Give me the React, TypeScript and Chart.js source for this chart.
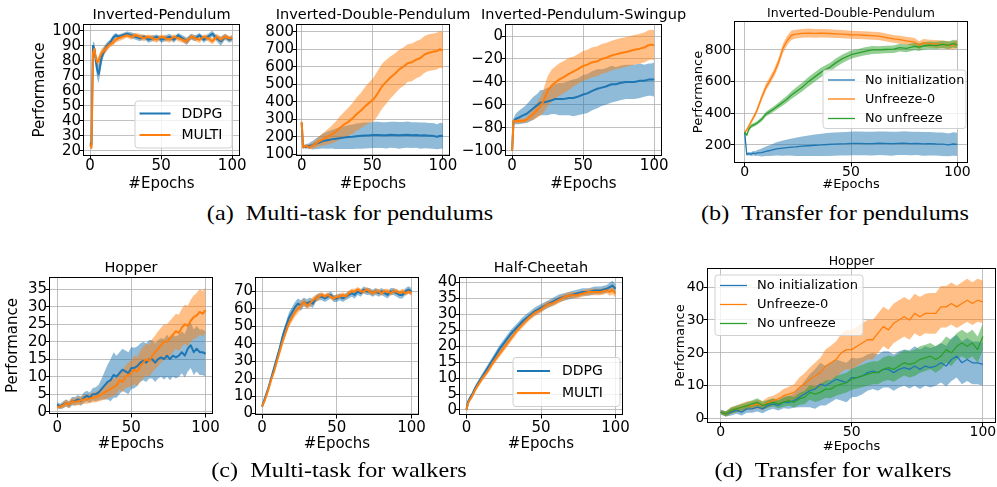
import React, { useEffect, useRef } from "react";
import { Chart, registerables } from "chart.js";

Chart.register(...registerables);
Chart.defaults.font.family = "'DejaVu Sans', sans-serif";
Chart.defaults.color = "#000";

const BLUE = "#1f77b4";
const ORANGE = "#ff7f0e";
const GREEN = "#2ca02c";
const GRID = "rgba(176,176,176,0.8)";

// ---------- tick values ----------
const epochTicks = [0, 50, 100];
const ipYTicks = [20, 30, 40, 50, 60, 70, 80, 90, 100];
const idpYTicks = [100, 200, 300, 400, 500, 600, 700, 800];
const swYTicks = [-100, -80, -60, -40, -20, 0];
const tIdpYTicks = [200, 400, 600, 800];
const hopperYTicks = [0, 5, 10, 15, 20, 25, 30, 35];
const walkerYTicks = [0, 10, 20, 30, 40, 50, 60, 70];
const cheetahYTicks = [0, 5, 10, 15, 20, 25, 30, 35, 40];
const tHopperYTicks = [0, 10, 20, 30, 40];

// ---------- (a) Inverted-Pendulum ----------
const ipEpochs = [0, 1, 2, 3, 4, 5, 6, 7, 8, 10, 12, 14, 16, 18, 20, 23, 26, 29, 32, 35, 38, 41, 44, 47, 50, 53, 56, 59, 62, 65, 68, 71, 74, 77, 80, 83, 86, 89, 92, 95, 98, 100];
const ipDdpgMean = [25, 24, 90, 88, 80, 74, 71, 76, 82, 87, 90, 92, 95, 97, 96, 97, 98, 97, 96, 95, 96, 94, 95, 96, 94, 95, 96, 94, 97, 95, 93, 96, 95, 97, 94, 96, 98, 95, 93, 96, 94, 95];
const ipDdpgSd = [1, 2, 3, 4, 5, 6, 6, 5, 4, 3, 2.5, 2, 2, 1.5, 1.5, 1.5, 1.5, 2, 2, 2, 1.5, 2, 2, 1.5, 2, 2, 2, 2, 1.5, 2, 2.5, 2, 2, 1.5, 2, 2, 2, 2, 3, 2, 2, 2];
const ipMultiMean = [24, 22, 85, 88, 82, 79, 80, 83, 85, 87, 89, 91, 92, 94, 95, 96, 97, 96, 97, 96, 95, 96, 95, 94, 96, 95, 94, 96, 95, 94, 93, 96, 95, 94, 96, 95, 93, 96, 94, 96, 95, 95];
const ipMultiSd = [1, 1.5, 3, 3, 3, 3, 3, 3, 3, 2.5, 2.5, 2, 2, 2, 2, 2, 1.5, 2, 1.5, 2, 2, 1.5, 2, 2, 1.5, 2, 2, 1.5, 2, 2, 2, 1.5, 2, 2, 1.5, 2, 2, 2, 2, 2, 1.5, 2];

// ---------- (a) Inverted-Double-Pendulum ----------
const idpEpochs = [0, 1, 2, 3, 4, 5, 6, 8, 10, 12, 15, 18, 21, 24, 27, 30, 33, 36, 39, 42, 45, 48, 51, 54, 57, 60, 63, 66, 69, 72, 75, 78, 81, 84, 87, 90, 93, 96, 98, 100];
const idpDdpgMean = [280, 140, 145, 142, 148, 145, 150, 152, 160, 165, 175, 180, 185, 188, 192, 195, 198, 200, 203, 205, 207, 208, 210, 210, 209, 208, 211, 210, 208, 210, 212, 209, 210, 207, 208, 206, 205, 200, 206, 204];
const idpDdpgSd = [5, 10, 10, 12, 14, 15, 18, 25, 30, 35, 42, 48, 52, 58, 62, 65, 68, 70, 72, 73, 74, 74, 75, 75, 74, 75, 74, 75, 76, 74, 75, 74, 73, 75, 74, 73, 74, 72, 74, 73];
const idpMultiMean = [285, 140, 142, 150, 145, 140, 142, 150, 160, 172, 185, 198, 212, 228, 250, 270, 285, 305, 330, 350, 375, 395, 415, 450, 490, 515, 540, 560, 585, 600, 620, 625, 640, 650, 670, 680, 685, 690, 700, 692];
const idpMultiSd = [5, 8, 8, 10, 10, 12, 14, 18, 22, 28, 35, 42, 50, 58, 65, 72, 80, 88, 95, 102, 110, 118, 125, 128, 128, 125, 120, 115, 112, 110, 108, 108, 106, 106, 105, 105, 105, 105, 105, 105];

// ---------- (a) Inverted-Pendulum-Swingup ----------
const swEpochs = [0, 1, 2, 3, 5, 8, 10, 12, 15, 18, 20, 22, 25, 28, 30, 33, 36, 40, 43, 46, 50, 53, 56, 60, 63, 66, 70, 73, 76, 80, 83, 86, 90, 93, 96, 98, 100];
const swDdpgMean = [-100, -74, -73, -72, -71, -69, -68, -66, -63, -60, -58, -58, -57, -56, -55, -55, -55, -54, -54, -53, -51, -50, -48, -46, -45, -44, -42, -42, -41, -40, -40, -40, -39, -39, -38, -38, -38];
const swDdpgSd = [1, 2, 4, 5, 6, 7, 8, 9, 10, 10, 11, 11, 12, 12, 13, 14, 14, 15, 16, 16, 17, 17, 17, 17, 16, 16, 16, 15, 15, 15, 15, 15, 15, 14, 14, 14, 15];
const swMultiMean = [-100, -74, -74, -74, -74, -74, -73, -71, -68, -64, -61, -57, -48, -43, -41, -38, -36, -33, -31, -29, -26, -25, -23, -22, -20, -19, -17, -16, -15, -14, -13, -12, -11, -10, -8, -7.5, -8];
const swMultiSd = [1, 2, 2, 2, 2, 2, 2, 3, 5, 7, 8, 10, 13, 14, 14, 14, 14, 14, 13, 13, 13, 13, 13, 13, 13, 13, 13, 13, 13, 13, 13, 13, 13, 13, 13, 13, 13];

// ---------- (b) Transfer, Inverted-Double-Pendulum ----------
const tIdpEpochs = [0, 1, 2, 3, 4, 5, 6, 8, 10, 12, 14, 16, 18, 20, 22, 24, 27, 30, 33, 36, 40, 43, 46, 50, 53, 56, 60, 63, 66, 70, 73, 76, 80, 82, 84, 87, 90, 93, 96, 98, 100];
const tIdpUnfreezeMean = [280, 295, 320, 345, 370, 395, 425, 500, 565, 610, 660, 725, 810, 860, 893, 900, 905, 907, 905, 906, 904, 902, 900, 896, 895, 893, 890, 888, 880, 870, 865, 858, 850, 830, 845, 840, 838, 835, 830, 828, 840];
const tIdpUnfreezeSd = [8, 10, 12, 14, 15, 16, 18, 20, 22, 24, 25, 28, 30, 30, 30, 28, 28, 28, 28, 27, 27, 26, 26, 25, 25, 25, 25, 25, 25, 25, 25, 25, 25, 25, 25, 25, 25, 25, 25, 25, 28];
const tIdpNoUnfreezeMean = [280, 262, 300, 318, 325, 332, 340, 362, 395, 412, 430, 450, 470, 490, 515, 535, 565, 600, 630, 660, 690, 720, 745, 770, 780, 790, 800, 800, 803, 805, 815, 810, 822, 818, 825, 830, 828, 835, 830, 840, 832];
const tIdpNoUnfreezeSd = [8, 10, 12, 12, 12, 12, 13, 14, 15, 16, 17, 18, 20, 22, 24, 26, 28, 30, 30, 30, 28, 28, 27, 26, 25, 25, 25, 24, 24, 24, 24, 24, 24, 24, 24, 24, 24, 24, 24, 24, 24];

// ---------- (c) Hopper ----------
const stepEpochs = [0, 2, 4, 6, 8, 10, 12, 14, 16, 18, 20, 22, 24, 26, 28, 30, 32, 34, 36, 38, 40, 42, 44, 46, 48, 50, 52, 54, 56, 58, 60, 62, 64, 66, 68, 70, 72, 74, 76, 78, 80, 82, 84, 86, 88, 90, 92, 94, 96, 98, 100];
const hopperDdpgMean = [2, 1.5, 2, 2.5, 2, 3, 3, 3.5, 3, 4, 4.5, 4, 5, 5, 5.5, 6.5, 7.5, 8.5, 9, 10.5, 10, 11, 12, 11.5, 11, 12.5, 12.5, 13, 14, 14.5, 14, 15, 15, 14, 15, 15.5, 15, 16, 15, 16, 15.5, 16, 17, 16, 18, 19, 17, 18, 17, 17, 16.5];
const hopperDdpgSd = [0.8, 0.8, 1, 1, 1, 1.2, 1.2, 1.3, 1.3, 1.5, 1.5, 1.5, 1.8, 2, 2.2, 3, 4, 5, 6, 6.5, 6, 6, 6, 6, 6, 6, 5.8, 5.6, 5.5, 5.5, 5.5, 5.5, 5.5, 5.5, 5.5, 5.5, 5.8, 6, 6, 6, 6, 6, 6, 6.2, 6.5, 6.5, 6.5, 6.5, 6.5, 6.5, 6.5];
const hopperMultiMean = [1.2, 1.5, 1.8, 2.5, 2, 3, 2.8, 3, 3.2, 3.5, 3.5, 3.8, 4, 4.2, 4.5, 5, 5.5, 6, 6.5, 7, 7.5, 9, 8.5, 10, 10.5, 11, 12, 11.5, 13, 14, 15, 14.5, 16, 17, 18, 19, 20, 20, 21, 22, 23, 22.5, 24, 25, 24.5, 26, 27, 27.5, 28.5, 28, 29];
const hopperMultiSd = [0.5, 0.6, 0.8, 1, 1, 1, 1, 1.2, 1.2, 1.2, 1.2, 1.3, 1.4, 1.5, 1.6, 1.8, 2, 2.2, 2.4, 2.5, 2.5, 2.8, 3, 3.2, 3.5, 3.8, 4, 4.2, 4.4, 4.5, 4.5, 4.6, 4.8, 4.8, 5, 5, 5, 5, 5, 5, 5, 5.2, 5.4, 5.6, 5.8, 6, 6.2, 6.4, 6.5, 6.5, 6.5];

// ---------- (c) Walker ----------
const walkerDdpgMean = [4, 9, 14, 20, 26, 32, 38, 45, 50, 55, 58, 61, 63, 62, 64, 63, 64, 63, 66, 67, 67, 66, 67, 68, 66, 66, 67, 66, 67, 68, 69, 68, 70, 69, 71, 70, 70, 69, 70, 69, 70, 69, 68, 70, 70, 69, 68, 68, 70, 71, 70];
const walkerDdpgSd = [1, 1, 1, 1, 1, 1.5, 1.5, 2, 2.5, 3, 3, 3, 3, 3, 2.5, 2.5, 2.5, 2.5, 2, 2, 2, 2, 2, 2, 2, 2, 2, 2, 2, 2, 2, 2, 2, 2, 2, 2, 2, 2, 2, 2, 2, 2, 2, 2, 2, 2, 2, 2, 2, 2, 2];
const walkerMultiMean = [4, 8, 13, 19, 24, 30, 36, 42, 47, 52, 55, 58, 60, 62, 64, 62, 63, 65, 66, 67, 68, 67, 68, 67, 66, 67, 67, 68, 67, 69, 70, 70, 71, 70, 70, 71, 70, 69, 70, 70, 69, 70, 70, 69, 70, 70, 69, 70, 69, 70, 69];
const walkerMultiSd = [1, 1, 1, 1, 1, 1.5, 1.5, 2, 2, 2.5, 2.5, 2.5, 2.5, 2, 2, 2, 2, 2, 2, 2, 1.5, 1.5, 1.5, 1.5, 1.5, 1.5, 1.5, 1.5, 1.5, 1.5, 1.5, 1.5, 1.5, 1.5, 1.5, 1.5, 1.5, 1.5, 1.5, 1.5, 1.5, 1.5, 1.5, 1.5, 1.5, 1.5, 1.5, 1.5, 1.5, 1.5, 1.5];

// ---------- (c) Half-Cheetah ----------
const cheetahEpochs = [0, 1, 2, 4, 6, 8, 10, 14, 18, 22, 26, 30, 34, 38, 42, 46, 50, 54, 58, 62, 66, 70, 74, 78, 82, 86, 90, 94, 96, 98, 100];
const cheetahDdpgMean = [0, 2.5, 3.5, 5, 7, 8.5, 10, 13, 16, 19, 21.5, 24, 26, 28, 29.5, 31, 32, 33, 34, 35, 35.5, 36, 36.5, 37, 37, 37.5, 37.5, 38, 38.5, 39, 38];
const cheetahDdpgSd = [0.3, 0.5, 0.6, 0.8, 0.8, 0.9, 1, 1, 1.1, 1.2, 1.2, 1.2, 1.2, 1.2, 1.2, 1.2, 1.2, 1.2, 1.2, 1.2, 1.2, 1.2, 1.2, 1.2, 1.2, 1.2, 1.2, 1.2, 1.4, 1.5, 1.4];
const cheetahMultiMean = [0, 2, 3, 4.5, 6.5, 8, 9.5, 12, 15, 17.5, 20, 22.5, 25, 27, 29, 30.5, 31.5, 33, 33.5, 34.5, 35.5, 36, 36, 36.5, 37, 37, 37, 37.5, 37, 37.5, 36.5];
const cheetahMultiSd = [0.3, 0.5, 0.6, 0.7, 0.8, 0.8, 0.9, 0.9, 1, 1, 1, 1, 1, 1, 1, 1, 1, 1, 1, 1, 1, 1, 1, 1, 1, 1, 1, 1, 1.2, 1.3, 1.2];

// ---------- (d) Transfer, Hopper ----------
const tHopperUnfreezeMean = [2, 1.5, 2.5, 3, 3.5, 4, 4, 4.5, 4, 5, 5.5, 6, 7, 7.5, 8, 9.5, 10.5, 12, 13, 14, 16, 17, 18, 20, 21, 21, 22, 23, 24, 24, 26, 28, 27, 29, 30, 31, 30, 32, 31, 32, 32, 32, 34, 34, 35, 34, 35, 36, 35, 36, 35.5];
const tHopperUnfreezeSd = [0.5, 0.8, 1, 1, 1.2, 1.2, 1.3, 1.3, 1.4, 1.5, 1.5, 1.8, 2, 2.2, 2.5, 3, 3.3, 3.6, 4, 4.5, 5, 5.2, 5.5, 5.8, 6, 6, 6, 6, 6, 6, 6, 6, 6, 6, 6, 6, 6, 6, 6, 6, 6.2, 6.2, 6.3, 6.3, 6.4, 6.4, 6.5, 6.5, 6.5, 6.5, 6.5];
const tHopperNoUnfreezeMean = [2, 1.5, 2.5, 3, 3.5, 4, 4.5, 5, 4, 4.5, 5, 4.5, 5, 5.5, 5, 6, 6.5, 8, 7.5, 8, 9, 9, 10, 10.5, 11, 12, 12.5, 13, 13.5, 14, 14, 15, 15.5, 15, 16, 17, 16.5, 17, 18, 18.5, 19, 18, 19, 21, 20, 22, 23, 22, 23, 21, 25];
const tHopperNoUnfreezeSd = [0.5, 0.8, 1, 1, 1, 1, 1.1, 1.2, 1.2, 1.2, 1.2, 1.3, 1.4, 1.5, 1.6, 1.8, 2, 2.2, 2.4, 2.5, 2.6, 2.8, 3, 3, 3, 3.2, 3.3, 3.4, 3.5, 3.5, 3.5, 3.6, 3.7, 3.8, 3.8, 3.9, 4, 4, 4, 4, 4, 4, 4, 4, 4, 4, 4, 4, 4, 4, 4];

// ---------- types ----------
type Series = { label: string; color: string; epochs: number[]; mean: number[]; sd: number[] };
type Legend = { box: [number, number, number, number]; rows: number[]; handle: [number, number]; textX: number; size: number; lw: number };
type Panel = {
  canvas: [number, number, number, number];
  area: [number, number, number, number];
  xRange: [number, number];
  yRange: [number, number];
  xTicks: number[];
  yTicks: number[];
  title: string;
  titleY: number;
  titleSize: number;
  tickSize: number;
  labelSize: number;
  xTickY: number;
  xLabelY: number;
  yLabelX: number;
  yTickPad: number;
  lineWidth: number;
  series: Series[];
  legend?: Legend;
};

const big = { titleSize: 14.5, tickSize: 15, labelSize: 15, lineWidth: 2 };
const small = { titleSize: 12.5, tickSize: 14, labelSize: 13, lineWidth: 1.3 };

const PANELS: Panel[] = [
  {
    ...big,
    canvas: [0, 0, 250, 200], area: [83, 24, 240, 156],
    xRange: [-5, 105.5], yRange: [16.5, 104.5], xTicks: epochTicks, yTicks: ipYTicks,
    title: "Inverted-Pendulum", titleY: 15, xTickY: 166, xLabelY: 184, yLabelX: 40, yTickPad: -1.5,
    series: [
      { label: "DDPG", color: BLUE, epochs: ipEpochs, mean: ipDdpgMean, sd: ipDdpgSd },
      { label: "MULTI", color: ORANGE, epochs: ipEpochs, mean: ipMultiMean, sd: ipMultiSd },
    ],
    legend: { box: [135, 101, 97, 47], rows: [113.5, 135], handle: [139.5, 170.5], textX: 181.5, size: 14, lw: 2 },
  },
  {
    ...big,
    canvas: [250, 0, 228, 200], area: [296, 24, 450, 156],
    xRange: [-4, 105], yRange: [90, 844], xTicks: epochTicks, yTicks: idpYTicks,
    title: "Inverted-Double-Pendulum", titleY: 15, xTickY: 166, xLabelY: 184, yLabelX: -100, yTickPad: -1.5,
    series: [
      { label: "DDPG", color: BLUE, epochs: idpEpochs, mean: idpDdpgMean, sd: idpDdpgSd },
      { label: "MULTI", color: ORANGE, epochs: idpEpochs, mean: idpMultiMean, sd: idpMultiSd },
    ],
  },
  {
    ...big,
    canvas: [458, 0, 236, 200], area: [505, 24, 662, 156],
    xRange: [-5, 105.5], yRange: [-104.6, 10.5], xTicks: epochTicks, yTicks: swYTicks,
    title: "Inverted-Pendulum-Swingup", titleY: 15, xTickY: 166, xLabelY: 184, yLabelX: -100, yTickPad: -1.5,
    series: [
      { label: "DDPG", color: BLUE, epochs: swEpochs, mean: swDdpgMean, sd: swDdpgSd },
      { label: "MULTI", color: ORANGE, epochs: swEpochs, mean: swMultiMean, sd: swMultiSd },
    ],
  },
  {
    ...small,
    canvas: [686, 0, 311, 200], area: [734, 21, 968, 163],
    xRange: [-5, 105], yRange: [86, 983], xTicks: epochTicks, yTicks: tIdpYTicks,
    title: "Inverted-Double-Pendulum", titleY: 14, xTickY: 172, xLabelY: 185, yLabelX: 699, yTickPad: -1,
    series: [
      { label: "No initialization", color: BLUE, epochs: idpEpochs, mean: idpDdpgMean, sd: idpDdpgSd },
      { label: "Unfreeze-0", color: ORANGE, epochs: tIdpEpochs, mean: tIdpUnfreezeMean, sd: tIdpUnfreezeSd },
      { label: "No unfreeze", color: GREEN, epochs: tIdpEpochs, mean: tIdpNoUnfreezeMean, sd: tIdpNoUnfreezeSd },
    ],
    legend: { box: [823, 70, 143, 58.5], rows: [80, 99, 118.5], handle: [828, 855], textX: 865, size: 12.8, lw: 1.3 },
  },
  {
    ...big,
    canvas: [0, 250, 222, 210], area: [49, 277, 213, 414],
    xRange: [-5.5, 105], yRange: [-0.66, 38.5], xTicks: epochTicks, yTicks: hopperYTicks,
    title: "Hopper", titleY: 268.5, xTickY: 428.5, xLabelY: 444.5, yLabelX: 13.5, yTickPad: -1.5,
    series: [
      { label: "DDPG", color: BLUE, epochs: stepEpochs, mean: hopperDdpgMean, sd: hopperDdpgSd },
      { label: "MULTI", color: ORANGE, epochs: stepEpochs, mean: hopperMultiMean, sd: hopperMultiSd },
    ],
  },
  {
    ...big,
    canvas: [222, 250, 212, 210], area: [255, 277, 419, 415],
    xRange: [-4.7, 105], yRange: [-0.8, 78.3], xTicks: epochTicks, yTicks: walkerYTicks,
    title: "Walker", titleY: 268.5, xTickY: 428.5, xLabelY: 444.5, yLabelX: -100, yTickPad: -1.5,
    series: [
      { label: "DDPG", color: BLUE, epochs: stepEpochs, mean: walkerDdpgMean, sd: walkerDdpgSd },
      { label: "MULTI", color: ORANGE, epochs: stepEpochs, mean: walkerMultiMean, sd: walkerMultiSd },
    ],
  },
  {
    ...big,
    canvas: [422, 250, 222, 210], area: [459, 277, 623, 415],
    xRange: [-5, 105], yRange: [-1.57, 41.7], xTicks: epochTicks, yTicks: cheetahYTicks,
    title: "Half-Cheetah", titleY: 268.5, xTickY: 428.5, xLabelY: 444.5, yLabelX: -100, yTickPad: -1.5,
    series: [
      { label: "DDPG", color: BLUE, epochs: cheetahEpochs, mean: cheetahDdpgMean, sd: cheetahDdpgSd },
      { label: "MULTI", color: ORANGE, epochs: cheetahEpochs, mean: cheetahMultiMean, sd: cheetahMultiSd },
    ],
    legend: { box: [513, 357.5, 107, 49], rows: [371, 393], handle: [517, 550], textX: 562, size: 14, lw: 2 },
  },
  {
    ...small,
    canvas: [672, 250, 325, 210], area: [707, 268, 996, 423],
    xRange: [-5.2, 105], yRange: [-1.3, 45.8], xTicks: epochTicks, yTicks: tHopperYTicks,
    title: "Hopper", titleY: 261.5, xTickY: 432.5, xLabelY: 446.5, yLabelX: 681, yTickPad: -1,
    series: [
      { label: "No initialization", color: BLUE, epochs: stepEpochs, mean: hopperDdpgMean, sd: hopperDdpgSd },
      { label: "Unfreeze-0", color: ORANGE, epochs: stepEpochs, mean: tHopperUnfreezeMean, sd: tHopperUnfreezeSd },
      { label: "No unfreeze", color: GREEN, epochs: stepEpochs, mean: tHopperNoUnfreezeMean, sd: tHopperNoUnfreezeSd },
    ],
    legend: { box: [715, 275, 148, 60.5], rows: [285.5, 304.5, 323.5], handle: [720, 747], textX: 757, size: 13, lw: 1.3 },
  },
];

const CAPTIONS = [
  { text: "(a)\u2002Multi-task for pendulums", cx: 350, cy: 213 },
  { text: "(b)\u2002Transfer for pendulums", cx: 835, cy: 213 },
  { text: "(c)\u2002Multi-task for walkers", cx: 339, cy: 470 },
  { text: "(d)\u2002Transfer for walkers", cx: 833, cy: 470 },
];

function rgba(hex: string, a: number) {
  const n = parseInt(hex.slice(1), 16);
  return `rgba(${(n >> 16) & 255},${(n >> 8) & 255},${n & 255},${a})`;
}

const fmt = (v: any) => String(v).replace("-", "\u2212");

function decorPlugin(p: Panel) {
  const [cl, ct] = p.canvas;
  return {
    id: "decor",
    afterDatasetsDraw(chart: any) {
      const { ctx, chartArea: a } = chart;
      ctx.save();
      ctx.strokeStyle = "#000";
      ctx.lineWidth = 1;
      const x0 = Math.round(a.left) + 0.5;
      const y0 = Math.round(a.top) + 0.5;
      const x1 = Math.round(a.right) - 0.5;
      const y1 = Math.round(a.bottom) - 0.5;
      ctx.strokeRect(x0, y0, x1 - x0, y1 - y0);
      ctx.restore();
    },
    afterDraw(chart: any) {
      const { ctx, chartArea: a } = chart;
      ctx.save();
      ctx.fillStyle = "#000";
      ctx.font = `${p.titleSize}px 'DejaVu Sans', sans-serif`;
      ctx.textAlign = "center";
      ctx.textBaseline = "middle";
      ctx.fillText(p.title, (a.left + a.right) / 2, p.titleY - ct);
      const lg = p.legend;
      if (lg) {
        const [bx, by, bw, bh] = lg.box;
        const x = bx - cl, y = by - ct, r = 3;
        ctx.beginPath();
        ctx.moveTo(x + r, y);
        ctx.lineTo(x + bw - r, y);
        ctx.arcTo(x + bw, y, x + bw, y + r, r);
        ctx.lineTo(x + bw, y + bh - r);
        ctx.arcTo(x + bw, y + bh, x + bw - r, y + bh, r);
        ctx.lineTo(x + r, y + bh);
        ctx.arcTo(x, y + bh, x, y + bh - r, r);
        ctx.lineTo(x, y + r);
        ctx.arcTo(x, y, x + r, y, r);
        ctx.closePath();
        ctx.fillStyle = "rgba(255,255,255,0.8)";
        ctx.fill();
        ctx.strokeStyle = "#d0d0d0";
        ctx.lineWidth = 1;
        ctx.stroke();
        ctx.font = `${lg.size}px 'DejaVu Sans', sans-serif`;
        ctx.textAlign = "left";
        ctx.textBaseline = "middle";
        p.series.forEach((s, i) => {
          const yy = lg.rows[i] - ct;
          ctx.strokeStyle = s.color;
          ctx.lineWidth = lg.lw;
          ctx.beginPath();
          ctx.moveTo(lg.handle[0] - cl, yy);
          ctx.lineTo(lg.handle[1] - cl, yy);
          ctx.stroke();
          ctx.fillStyle = "#000";
          ctx.fillText(s.label, lg.textX - cl, yy + 0.5);
        });
      }
      ctx.restore();
    },
  };
}

function makeConfig(p: Panel): any {
  const [cl, ct, cw, ch] = p.canvas;
  const [al, at, ar, ab] = p.area;
  const n = p.series.length;
  const datasets: any[] = [];
  p.series.forEach((s, i) => {
    const pts = (vals: number[]) => s.epochs.map((e, k) => ({ x: e, y: vals[k] }));
    const lo = s.mean.map((m, k) => m - s.sd[k]);
    const hi = s.mean.map((m, k) => m + s.sd[k]);
    const bandOrder = 10 + (n - 1 - i);
    datasets.push({ label: s.label + " lower", data: pts(lo), borderColor: "rgba(0,0,0,0)", borderWidth: 0, pointRadius: 0, fill: false, order: bandOrder });
    datasets.push({ label: s.label + " upper", data: pts(hi), borderColor: "rgba(0,0,0,0)", borderWidth: 0, pointRadius: 0, fill: "-1", backgroundColor: rgba(s.color, 0.5), order: bandOrder });
    datasets.push({ label: s.label, data: pts(s.mean), borderColor: s.color, borderWidth: p.lineWidth, pointRadius: 0, fill: false, order: n - 1 - i });
  });
  const tickLen = 3.5;
  const showYLabel = p.yLabelX > 0;
  return {
    type: "line",
    data: { datasets },
    options: {
      animation: false,
      responsive: false,
      devicePixelRatio: 1,
      events: [],
      layout: { padding: { left: 0, top: at - ct, right: cl + cw - ar, bottom: 0 } },
      plugins: { legend: { display: false }, tooltip: { enabled: false }, title: { display: false } },
      elements: { line: { tension: 0, borderCapStyle: "butt", borderJoinStyle: "round" } },
      scales: {
        x: {
          type: "linear",
          bounds: "data",
          min: p.xRange[0],
          max: p.xRange[1],
          afterBuildTicks: (s: any) => { s.ticks = p.xTicks.map((v) => ({ value: v })); },
          afterFit: (s: any) => { s.height = ct + ch - ab; s.paddingLeft = 0; s.paddingRight = 0; },
          ticks: {
            autoSkip: false, maxRotation: 0, minRotation: 0, color: "#000",
            font: { size: p.tickSize, lineHeight: 1 },
            padding: p.xTickY - ab - tickLen - p.tickSize / 2,
            callback: fmt,
          },
          grid: { color: GRID, lineWidth: 1, drawTicks: true, tickLength: tickLen, tickColor: "#000", tickWidth: 1 },
          border: { display: false },
          title: {
            display: true, text: "#Epochs", color: "#000",
            font: { size: p.labelSize, lineHeight: 1 },
            padding: { top: 0, bottom: ct + ch - p.xLabelY - p.labelSize / 2 },
          },
        },
        y: {
          type: "linear",
          bounds: "data",
          min: p.yRange[0],
          max: p.yRange[1],
          afterBuildTicks: (s: any) => { s.ticks = p.yTicks.map((v) => ({ value: v })); },
          afterFit: (s: any) => { s.width = al - cl; s.paddingTop = 0; s.paddingBottom = 0; },
          ticks: {
            autoSkip: false, color: "#000",
            font: { size: p.tickSize, lineHeight: 1 },
            padding: p.yTickPad,
            callback: fmt,
          },
          grid: { color: GRID, lineWidth: 1, drawTicks: true, tickLength: tickLen, tickColor: "#000", tickWidth: 1 },
          border: { display: false },
          title: {
            display: showYLabel, text: "Performance", color: "#000",
            font: { size: p.labelSize, lineHeight: 1 },
            padding: { top: showYLabel ? p.yLabelX - cl - p.labelSize / 2 : 0, bottom: 0 },
          },
        },
      },
    },
    plugins: [decorPlugin(p)],
  };
}

function PanelChart({ p }: { p: Panel }) {
  const ref = useRef<HTMLCanvasElement>(null);
  useEffect(() => {
    if (!ref.current) return;
    const chart = new Chart(ref.current, makeConfig(p));
    return () => chart.destroy();
  }, [p]);
  const [l, t, w, h] = p.canvas;
  return (
    <canvas
      ref={ref}
      width={w}
      height={h}
      style={{ position: "absolute", left: l, top: t, width: w, height: h }}
    />
  );
}

export default function App() {
  return (
    <div style={{ position: "absolute", left: 0, top: 0, width: 997, height: 487, background: "#fff", overflow: "hidden" }}>
      {PANELS.map((p, i) => (
        <PanelChart key={i} p={p} />
      ))}
      {CAPTIONS.map((c, i) => (
        <div
          key={"c" + i}
          style={{
            position: "absolute", left: c.cx - 200, top: c.cy - 12, width: 400, height: 24,
            lineHeight: "24px", textAlign: "center", whiteSpace: "pre",
            fontFamily: "'Liberation Serif', 'Times New Roman', serif", fontSize: 22, color: "#000",
            transform: "scaleX(1.1)",
          }}
        >
          {c.text}
        </div>
      ))}
    </div>
  );
}
